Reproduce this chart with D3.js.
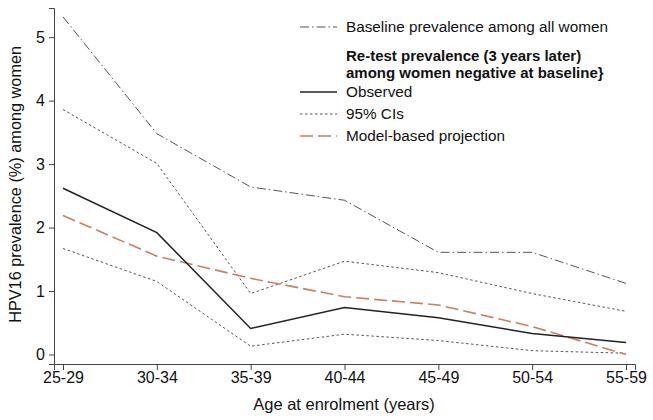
<!DOCTYPE html>
<html>
<head>
<meta charset="utf-8">
<script src="https://cdn.jsdelivr.net/npm/d3@7"></script>
<style>
  body { margin: 0; background: #fff; }
  svg { font-family: "Liberation Sans", Arial, sans-serif; }
</style>
</head>
<body>
<div id="chart"></div>
<script>
const width = 653;
const height = 420;

const ageGroups = ["25-29", "30-34", "35-39", "40-44", "45-49", "50-54", "55-59"];
const baseline = [5.32, 3.48, 2.64, 2.43, 1.61, 1.61, 1.12];
const observed = [2.62, 1.92, 0.41, 0.74, 0.58, 0.33, 0.19];
const ciUpper = [3.86, 3.01, 0.96, 1.47, 1.29, 0.96, 0.68];
const ciLower = [1.67, 1.15, 0.13, 0.32, 0.22, 0.06, 0.02];
const projection = [2.19, 1.55, 1.20, 0.91, 0.78, 0.44, 0.0];
const yTicks = [0, 1, 2, 3, 4, 5];

const x = d3.scaleLinear()
    .domain([-0.096, ageGroups.length - 1 + 0.096])
    .range([54, 635]);

const y = d3.scaleLinear()
    .domain([-0.15, 5.46])
    .range([364, 8]);

const svg = d3.select("#chart").append("svg")
    .attr("width", width)
    .attr("height", height);

// axes
svg.append("g")
    .attr("transform", `translate(0,${y.range()[0]})`)
    .call(d3.axisBottom(x)
        .tickValues(d3.range(ageGroups.length))
        .tickFormat(i => ageGroups[i])
        .tickSizeOuter(0)
        .tickSize(6)
        .tickPadding(2));

svg.append("g")
    .attr("transform", `translate(${x.range()[0]},0)`)
    .call(d3.axisLeft(y)
        .tickValues(yTicks)
        .tickFormat(d3.format("d"))
        .tickSizeOuter(0)
        .tickSize(5)
        .tickPadding(4));

svg.selectAll(".domain, .tick line").attr("stroke", "#444").attr("stroke-width", 1);
svg.selectAll(".tick text").attr("font-size", 16).attr("fill", "#111")
    .attr("font-family", "'Liberation Sans', Arial, sans-serif");

svg.append("text")
    .attr("x", 344)
    .attr("y", 410)
    .attr("text-anchor", "middle")
    .attr("font-size", 16.5)
    .attr("fill", "#111")
    .text("Age at enrolment (years)");

svg.append("text")
    .attr("transform", `translate(21,${y(2.68)}) rotate(-90)`)
    .attr("text-anchor", "middle")
    .attr("font-size", 16.3)
    .attr("fill", "#111")
    .text("HPV16 prevalence (%) among women");

const line = d3.line()
    .x((d, i) => x(i))
    .y(d => y(d));

const series = [
    {values: baseline, stroke: "#555", dash: "9,3,1.5,3", width: 1},
    {values: ciUpper, stroke: "#555", dash: "2.5,2.5", width: 1},
    {values: ciLower, stroke: "#555", dash: "2.5,2.5", width: 1},
    {values: projection, stroke: "#c8805f", dash: "13,5", width: 1.6},
    {values: observed, stroke: "#222", dash: null, width: 1.5}
];

svg.selectAll(".series")
    .data(series)
    .enter()
    .append("path")
    .attr("class", "series")
    .attr("fill", "none")
    .attr("stroke", d => d.stroke)
    .attr("stroke-width", d => d.width)
    .attr("stroke-dasharray", d => d.dash)
    .attr("d", d => line(d.values));

// legend
const legend = svg.append("g").attr("font-size", 15.3).attr("fill", "#111");
const legendItems = [
    {label: "Baseline prevalence among all women", y: 27, s: series[0]},
    {label: "Observed", y: 92, s: series[4]},
    {label: "95% CIs", y: 114, s: series[1]},
    {label: "Model-based projection", y: 136, s: series[3]}
];

legendItems.forEach(d => {
    legend.append("line")
        .attr("x1", 300).attr("x2", 337)
        .attr("y1", d.y).attr("y2", d.y)
        .attr("stroke", d.s.stroke)
        .attr("stroke-width", d.s.width)
        .attr("stroke-dasharray", d.s.dash);
    legend.append("text")
        .attr("x", 346).attr("y", d.y)
        .attr("dy", "0.35em")
        .text(d.label);
});

legend.append("text")
    .attr("x", 346).attr("y", 56).attr("dy", "0.35em")
    .attr("font-weight", "bold")
    .attr("font-size", 15)
    .text("Re-test prevalence (3 years later)");
legend.append("text")
    .attr("x", 346).attr("y", 73).attr("dy", "0.35em")
    .attr("font-weight", "bold")
    .attr("font-size", 15)
    .text("among women negative at baseline}");
</script>
</body>
</html>
